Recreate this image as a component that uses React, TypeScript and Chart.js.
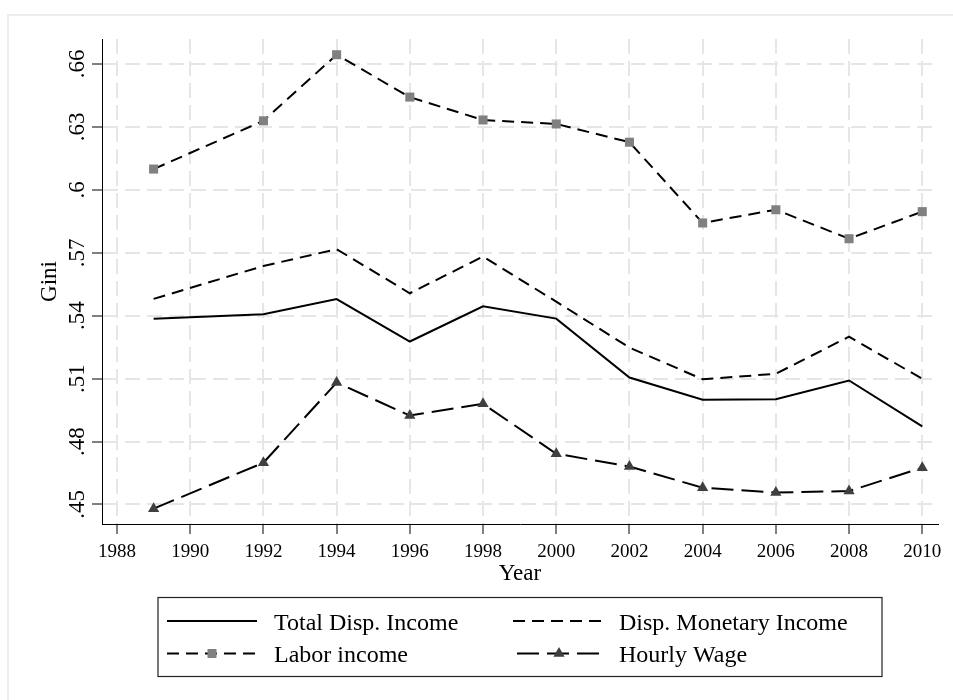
import React, { useEffect, useRef } from "react";
import { Chart, registerables } from "chart.js";

Chart.register(...registerables);

const years = [1989, 1992, 1994, 1996, 1998, 2000, 2002, 2004, 2006, 2008, 2010];
const totalDisp = [0.5385, 0.5407, 0.5479, 0.5277, 0.5445, 0.5386, 0.5105, 0.4999, 0.5002, 0.5091, 0.4872];
const dispMonetary = [0.548, 0.5637, 0.5717, 0.5507, 0.5682, 0.5467, 0.5248, 0.5097, 0.5123, 0.53, 0.5099];
const laborIncome = [0.6099, 0.6329, 0.6644, 0.6442, 0.6333, 0.6314, 0.6227, 0.5842, 0.5905, 0.5767, 0.5896];
const hourlyWage = [0.448, 0.4699, 0.5081, 0.4924, 0.498, 0.4742, 0.4681, 0.458, 0.4557, 0.4564, 0.4675];

const seriesLabels = ["Total Disp. Income", "Disp. Monetary Income", "Labor income", "Hourly Wage"];
const yTickValues = [0.45, 0.48, 0.51, 0.54, 0.57, 0.6, 0.63, 0.66];
const yTickLabels = [".45", ".48", ".51", ".54", ".57", ".6", ".63", ".66"];
const xTickValues = [1988, 1990, 1992, 1994, 1996, 1998, 2000, 2002, 2004, 2006, 2008, 2010];
const xTitle = "Year";
const yTitle = "Gini";

const SERIF = '"Liberation Serif", "Times New Roman", Times, serif';
const DASH_SHORT = [12, 7];
const DASH_LONG = [22, 8];
const SQUARE_COLOR = "#808080";
const TRIANGLE_COLOR = "#3f3f3f";

const toPoints = (vals: number[]) => vals.map((v, i) => ({ x: years[i], y: v }));

function drawTriangle(ctx: CanvasRenderingContext2D, x: number, y: number, r: number) {
  ctx.beginPath();
  let rad = 0;
  ctx.moveTo(x + Math.sin(rad) * r, y - Math.cos(rad) * r);
  rad += (2 * Math.PI) / 3;
  ctx.lineTo(x + Math.sin(rad) * r, y - Math.cos(rad) * r);
  rad += (2 * Math.PI) / 3;
  ctx.lineTo(x + Math.sin(rad) * r, y - Math.cos(rad) * r);
  ctx.closePath();
  ctx.fill();
}

const decorPlugin = {
  id: "decor",
  beforeDraw(chart: any) {
    const ctx = chart.ctx as CanvasRenderingContext2D;
    ctx.save();
    ctx.strokeStyle = "#ececec";
    ctx.lineWidth = 2;
    ctx.beginPath();
    ctx.moveTo(8, 700);
    ctx.lineTo(8, 15);
    ctx.lineTo(953, 15);
    ctx.stroke();
    ctx.restore();
  },
  afterDraw(chart: any) {
    const ctx = chart.ctx as CanvasRenderingContext2D;
    const ys = chart.scales.y;
    const area = chart.chartArea;
    ctx.save();
    ctx.fillStyle = "#000";
    ctx.font = `23px ${SERIF}`;
    ctx.textAlign = "center";
    ctx.textBaseline = "alphabetic";
    yTickValues.forEach((v, i) => {
      const py = ys.getPixelForValue(v);
      ctx.save();
      ctx.translate(83.5, py);
      ctx.rotate(-Math.PI / 2);
      ctx.fillText(yTickLabels[i], 0, 0);
      ctx.restore();
    });
    ctx.font = `23px ${SERIF}`;
    ctx.fillText(xTitle, (area.left + area.right) / 2, 580);
    ctx.save();
    ctx.translate(56, (area.top + area.bottom) / 2);
    ctx.rotate(-Math.PI / 2);
    ctx.fillText(yTitle, 0, 0);
    ctx.restore();

    const bx = 158, by = 597.5, bw = 724, bh = 79;
    ctx.strokeStyle = "#222";
    ctx.lineWidth = 1.2;
    ctx.strokeRect(bx, by, bw, bh);

    const rows = [621, 653.5];
    const baselines = [629.5, 661.5];
    const cols = [
      { x1: 167, x2: 257, tx: 274 },
      { x1: 513, x2: 605, tx: 619 },
    ];
    const items = [
      { label: seriesLabels[0], dash: [] as number[], off: 0, marker: "", r: 0, c: 0 },
      { label: seriesLabels[1], dash: DASH_SHORT, off: 0, marker: "", r: 0, c: 1 },
      { label: seriesLabels[2], dash: DASH_SHORT, off: 0, marker: "rect", r: 1, c: 0 },
      { label: seriesLabels[3], dash: DASH_LONG, off: -4, marker: "tri", r: 1, c: 1 },
    ];
    ctx.font = `24px ${SERIF}`;
    ctx.textAlign = "left";
    items.forEach((it) => {
      const col = cols[it.c];
      const y = rows[it.r];
      ctx.save();
      ctx.strokeStyle = "#000";
      ctx.lineWidth = 2;
      ctx.setLineDash(it.dash);
      ctx.lineDashOffset = it.off;
      ctx.beginPath();
      ctx.moveTo(col.x1, y);
      ctx.lineTo(col.x2, y);
      ctx.stroke();
      ctx.restore();
      const mx = (col.x1 + col.x2) / 2;
      if (it.marker === "rect") {
        ctx.fillStyle = SQUARE_COLOR;
        ctx.fillRect(mx - 4.5, y - 4.5, 9, 9);
      } else if (it.marker === "tri") {
        ctx.fillStyle = TRIANGLE_COLOR;
        drawTriangle(ctx, mx, y, 6.5);
      }
      ctx.fillStyle = "#000";
      ctx.fillText(it.label, col.tx, baselines[it.r]);
    });
    ctx.restore();
  },
};

export default function App() {
  const canvasRef = useRef<HTMLCanvasElement | null>(null);

  useEffect(() => {
    const canvas = canvasRef.current;
    if (!canvas) return;
    const gridCommon = {
      color: "#e6e6e6",
      lineWidth: 2,
      drawTicks: true,
      tickLength: 10,
      tickColor: "#000",
      tickWidth: 1,
      tickBorderDash: [],
    };
    const chart = new Chart(canvas, {
      type: "line",
      data: {
        datasets: [
          {
            label: seriesLabels[0],
            data: toPoints(totalDisp),
            borderColor: "#000",
            borderWidth: 2,
            pointRadius: 0,
            tension: 0,
          },
          {
            label: seriesLabels[1],
            data: toPoints(dispMonetary),
            borderColor: "#000",
            borderWidth: 2,
            borderDash: DASH_SHORT,
            pointRadius: 0,
            tension: 0,
          },
          {
            label: seriesLabels[2],
            data: toPoints(laborIncome),
            borderColor: "#000",
            borderWidth: 2,
            borderDash: DASH_SHORT,
            pointStyle: "rect",
            pointRadius: 6.4,
            pointBackgroundColor: SQUARE_COLOR,
            pointBorderWidth: 0,
            tension: 0,
          },
          {
            label: seriesLabels[3],
            data: toPoints(hourlyWage),
            borderColor: "#000",
            borderWidth: 2,
            borderDash: DASH_LONG,
            pointStyle: "triangle",
            pointRadius: 6.5,
            pointBackgroundColor: TRIANGLE_COLOR,
            pointBorderWidth: 0,
            tension: 0,
          },
        ],
      },
      options: {
        animation: false,
        responsive: false,
        devicePixelRatio: 1,
        layout: { padding: { top: 39, right: 15, bottom: 0, left: 0 } },
        plugins: {
          legend: { display: false },
          title: { display: false },
          tooltip: { enabled: false },
        },
        events: [],
        scales: {
          x: {
            type: "linear",
            min: 1987.59,
            max: 2010.43,
            afterBuildTicks: (scale: any) => {
              scale.ticks = xTickValues.map((v) => ({ value: v }));
            },
            afterFit: (scale: any) => {
              scale.height = 176;
              scale.paddingLeft = 0;
              scale.paddingRight = 0;
            },
            grid: gridCommon,
            border: { display: true, color: "#000", width: 1, dash: [15, 7] },
            ticks: {
              color: "#000",
              font: { family: SERIF, size: 19, lineHeight: 1 },
              padding: 9,
              maxRotation: 0,
              minRotation: 0,
              autoSkip: false,
              callback: (v: any) => String(v),
            },
          },
          y: {
            type: "linear",
            min: 0.4407,
            max: 0.6719,
            afterBuildTicks: (scale: any) => {
              scale.ticks = yTickValues.map((v) => ({ value: v }));
            },
            afterFit: (scale: any) => {
              scale.width = 102;
              scale.paddingTop = 0;
              scale.paddingBottom = 0;
            },
            grid: gridCommon,
            border: { display: true, color: "#000", width: 1, dash: [15, 7] },
            ticks: { display: false },
          },
        },
      },
      plugins: [decorPlugin],
    } as any);
    return () => chart.destroy();
  }, []);

  return (
    <div style={{ position: "absolute", left: 0, top: 0, width: 953, height: 700, background: "#fff" }}>
      <canvas ref={canvasRef} width={953} height={700} style={{ display: "block", width: 953, height: 700 }} />
    </div>
  );
}
